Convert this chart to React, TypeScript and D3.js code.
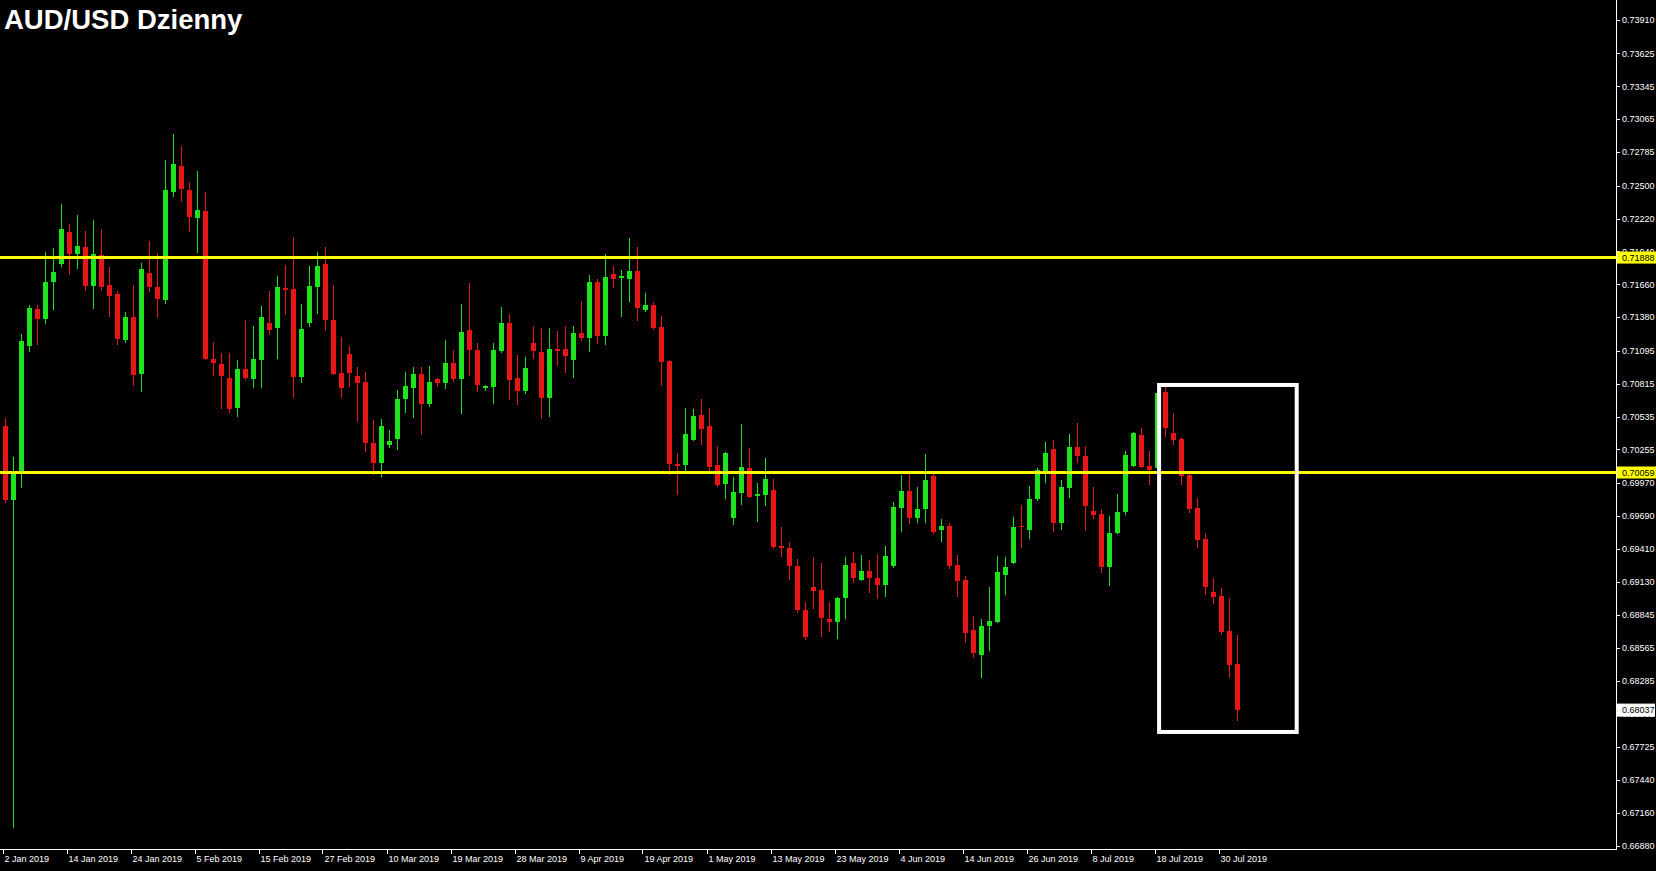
import * as d3 from "d3";

// AUD/USD daily bars, 2 Jan 2019 .. 1 Aug 2019
const open = [
  0.70455, 0.69825, 0.70046, 0.71136, 0.7145, 0.71365, 0.7168, 0.71833, 0.72106, 0.71919,
  0.71978, 0.71646, 0.7191, 0.71655, 0.71578, 0.71187, 0.71382, 0.70897, 0.71757, 0.71638,
  0.71527, 0.72446, 0.72667, 0.72463, 0.72225, 0.72284, 0.71025, 0.70982, 0.70863, 0.70608,
  0.7094, 0.70855, 0.71016, 0.71331, 0.71289, 0.71629, 0.71621, 0.70872, 0.71331, 0.71638,
  0.71833, 0.71357, 0.70906, 0.71067, 0.7088, 0.70829, 0.7031, 0.7014, 0.70293, 0.70344,
  0.70685, 0.70778, 0.70897, 0.70642, 0.70855, 0.70821, 0.70991, 0.70855, 0.71272, 0.71101,
  0.70778, 0.70787, 0.71093, 0.71331, 0.70863, 0.70753, 0.71161, 0.71084, 0.70693, 0.7111,
  0.7111, 0.71016, 0.71246, 0.71204, 0.7168, 0.71221, 0.71748, 0.71714, 0.71706, 0.71774,
  0.71442, 0.71484, 0.71297, 0.71008, 0.70131, 0.70123, 0.70336, 0.70548, 0.70455, 0.70123,
  0.69961, 0.69672, 0.69885, 0.70097, 0.69859, 0.69868, 0.6991, 0.69434, 0.69417, 0.69263,
  0.68889, 0.69085, 0.69059, 0.68812, 0.68787, 0.68991, 0.69289, 0.69144, 0.69221, 0.69161,
  0.69102, 0.69263, 0.69757, 0.69902, 0.69672, 0.69748, 0.70029, 0.6957, 0.69604, 0.69272,
  0.69144, 0.68719, 0.68506, 0.68753, 0.68787, 0.69187, 0.69289, 0.69604, 0.6957, 0.69834,
  0.70072, 0.70259, 0.69629, 0.69927, 0.70276, 0.70199, 0.69731, 0.69706, 0.69255, 0.69544,
  0.69723, 0.70114, 0.70378, 0.70114, 0.70097, 0.70744, 0.70395, 0.70344, 0.70038, 0.69757,
  0.69493, 0.69042, 0.69008, 0.6871, 0.68429,
];
const high = [
  0.70523, 0.70191, 0.71238, 0.71484, 0.71484, 0.71936, 0.7197, 0.72344, 0.72174, 0.7225,
  0.72114, 0.72208, 0.72131, 0.71808, 0.71604, 0.71425, 0.71655, 0.71842, 0.72029, 0.71927,
  0.72718, 0.7294, 0.72838, 0.72531, 0.72625, 0.72446, 0.7117, 0.71076, 0.71076, 0.71016,
  0.71357, 0.71306, 0.71476, 0.71604, 0.71731, 0.71825, 0.72063, 0.71493, 0.71816, 0.71936,
  0.71978, 0.71655, 0.71212, 0.71136, 0.70957, 0.70914, 0.70506, 0.70514, 0.70421, 0.70761,
  0.70914, 0.70957, 0.70957, 0.70965, 0.70863, 0.71187, 0.71101, 0.71493, 0.71672, 0.71161,
  0.70804, 0.71161, 0.71467, 0.71408, 0.71059, 0.71042, 0.71306, 0.71289, 0.71289, 0.71263,
  0.71306, 0.71306, 0.71519, 0.7174, 0.71706, 0.71919, 0.71816, 0.71782, 0.72055, 0.71978,
  0.71587, 0.7151, 0.71391, 0.7102, 0.70225, 0.70608, 0.70599, 0.70685, 0.70608, 0.70285,
  0.70234, 0.70021, 0.70472, 0.70268, 0.6997, 0.70182, 0.70004, 0.69595, 0.69468, 0.69323,
  0.68957, 0.6934, 0.69289, 0.68957, 0.68999, 0.6934, 0.69382, 0.69357, 0.69314, 0.69365,
  0.69434, 0.69808, 0.70038, 0.70063, 0.69936, 0.70217, 0.70055, 0.69663, 0.69629, 0.69357,
  0.69178, 0.68838, 0.68812, 0.69085, 0.69348, 0.6934, 0.6968, 0.69782, 0.69944, 0.70097,
  0.70319, 0.70336, 0.69995, 0.70387, 0.7048, 0.70285, 0.69936, 0.69748, 0.69689, 0.69876,
  0.70242, 0.70404, 0.70438, 0.70242, 0.70761, 0.70787, 0.70565, 0.70361, 0.70063, 0.69842,
  0.69544, 0.69161, 0.69076, 0.68991, 0.68676,
];
const low = [
  0.69799, 0.67034, 0.69927, 0.71084, 0.71144, 0.71323, 0.71442, 0.71808, 0.7174, 0.71791,
  0.71604, 0.7145, 0.71604, 0.71382, 0.71144, 0.71161, 0.70795, 0.70744, 0.71595, 0.71374,
  0.71493, 0.72404, 0.72361, 0.72106, 0.71927, 0.71016, 0.7088, 0.70599, 0.70565, 0.70531,
  0.70846, 0.70778, 0.70778, 0.71229, 0.71025, 0.71399, 0.70693, 0.70821, 0.71297, 0.71408,
  0.71263, 0.70889, 0.70693, 0.70787, 0.70489, 0.70234, 0.70038, 0.70021, 0.70268, 0.70251,
  0.70565, 0.70523, 0.70378, 0.70616, 0.70787, 0.7077, 0.70829, 0.70557, 0.7088, 0.70744,
  0.70753, 0.70642, 0.71076, 0.70676, 0.70633, 0.70727, 0.71025, 0.70514, 0.70531, 0.70965,
  0.70906, 0.70863, 0.71178, 0.71084, 0.71153, 0.71144, 0.71629, 0.71382, 0.7151, 0.71348,
  0.71425, 0.71272, 0.70795, 0.70038, 0.69868, 0.70063, 0.70327, 0.70293, 0.70072, 0.69936,
  0.69834, 0.69612, 0.69782, 0.6984, 0.69638, 0.69774, 0.69408, 0.6934, 0.69144, 0.68863,
  0.68634, 0.68897, 0.68659, 0.68702, 0.68642, 0.68812, 0.69119, 0.69136, 0.69034, 0.68983,
  0.68999, 0.69246, 0.69553, 0.69621, 0.69629, 0.69629, 0.69536, 0.69468, 0.69238, 0.68999,
  0.68608, 0.6848, 0.6831, 0.6854, 0.68778, 0.69017, 0.6928, 0.69417, 0.69493, 0.69817,
  0.6997, 0.69553, 0.6957, 0.69842, 0.7014, 0.69561, 0.69663, 0.69204, 0.69093, 0.69536,
  0.69697, 0.70106, 0.70097, 0.69953, 0.70063, 0.70361, 0.70293, 0.69953, 0.69714, 0.69417,
  0.69017, 0.6894, 0.68676, 0.6831, 0.67944,
];
const close = [
  0.69825, 0.70046, 0.71178, 0.71459, 0.71365, 0.7168, 0.71765, 0.72131, 0.71919, 0.71987,
  0.71646, 0.71919, 0.71638, 0.71561, 0.71195, 0.71382, 0.70889, 0.71791, 0.71638, 0.71536,
  0.72463, 0.72684, 0.72472, 0.72233, 0.72293, 0.71025, 0.70991, 0.7088, 0.70599, 0.7094,
  0.70863, 0.71025, 0.71382, 0.71272, 0.71638, 0.71612, 0.70872, 0.7128, 0.71646, 0.71816,
  0.71357, 0.70897, 0.70778, 0.70906, 0.70821, 0.7031, 0.7014, 0.70455, 0.70327, 0.70685,
  0.70795, 0.70897, 0.70642, 0.70829, 0.70821, 0.70991, 0.70855, 0.71255, 0.71101, 0.70804,
  0.70795, 0.71101, 0.71331, 0.70846, 0.70753, 0.70948, 0.71093, 0.70693, 0.7111, 0.71093,
  0.7105, 0.71246, 0.71204, 0.7168, 0.71221, 0.71723, 0.71706, 0.71731, 0.71774, 0.71459,
  0.71484, 0.71289, 0.70999, 0.70131, 0.70114, 0.70387, 0.7054, 0.70429, 0.70106, 0.69953,
  0.70225, 0.69893, 0.70106, 0.69851, 0.69876, 0.70004, 0.69425, 0.69417, 0.69263, 0.68889,
  0.68659, 0.69051, 0.68821, 0.68787, 0.68991, 0.69272, 0.69161, 0.69221, 0.69161, 0.69102,
  0.69348, 0.69765, 0.69902, 0.69672, 0.69748, 0.69995, 0.69553, 0.69604, 0.69263, 0.69136,
  0.68693, 0.68523, 0.68753, 0.68795, 0.69212, 0.69255, 0.69595, 0.69595, 0.69834, 0.7008,
  0.70225, 0.69629, 0.69936, 0.70276, 0.70199, 0.69774, 0.69697, 0.69255, 0.69544, 0.69723,
  0.70208, 0.70395, 0.70106, 0.7008, 0.70736, 0.70438, 0.70336, 0.70029, 0.69748, 0.69485,
  0.69085, 0.68999, 0.68702, 0.68421, 0.68037,
];

const dateLabels = [
  "2 Jan 2019", "14 Jan 2019", "24 Jan 2019", "5 Feb 2019", "15 Feb 2019",
  "27 Feb 2019", "10 Mar 2019", "19 Mar 2019", "28 Mar 2019", "9 Apr 2019",
  "19 Apr 2019", "1 May 2019", "13 May 2019", "23 May 2019", "4 Jun 2019",
  "14 Jun 2019", "26 Jun 2019", "8 Jul 2019", "18 Jul 2019", "30 Jul 2019",
];
const dateBars = [0, 8, 16, 24, 32, 40, 48, 56, 64, 72, 80, 88, 96, 104, 112, 120, 128, 136, 144, 152];

const priceTicks = [
  0.7391, 0.73625, 0.73345, 0.73065, 0.72785, 0.725, 0.7222, 0.7194, 0.7166, 0.7138,
  0.71095, 0.70815, 0.70535, 0.70255, 0.6997, 0.6969, 0.6941, 0.6913, 0.68845, 0.68565,
  0.68285, 0.68005, 0.67725, 0.6744, 0.6716, 0.6688,
];

const levels = [0.71888, 0.70059];
const lastPrice = 0.68037;
// highlight box: bar span and price span
const boxBars = [144.2, 161.4];
const boxPrices = [0.70804, 0.67851];

const W = 1656;
const H = 871;
const plotRight = 1616;
const plotBottom = 849;
const UP = "#1fe31f";
const DOWN = "#e81616";
const axisFont = "'Liberation Sans', Arial, sans-serif";

export default function App() {
  const x = d3.scaleLinear().domain([0, 154]).range([5.5, 1237.5]);
  const y = d3.scaleLinear().domain([0.66855, 0.7408]).range([plotBottom, 0]);
  const fmt = d3.format(".5f");

  return (
    <svg
      width={W}
      height={H}
      style={{ position: "fixed", left: 0, top: 0, display: "block" }}
    >
      <rect x={0} y={0} width={W} height={H} fill="#000" />

      {/* candles */}
      <g shapeRendering="crispEdges">
        {open.map((o, i) => {
          const c = close[i];
          const up = c >= o;
          const col = up ? UP : DOWN;
          const cx = Math.round(x(i) - 0.5) + 0.5;
          const top = y(Math.max(o, c));
          const bot = y(Math.min(o, c));
          return (
            <g key={i}>
              <line x1={cx} x2={cx} y1={y(high[i])} y2={y(low[i])} stroke={col} strokeWidth={1} />
              <rect x={cx - 2.5} y={top} width={5} height={Math.max(1, bot - top)} fill={col} />
            </g>
          );
        })}
      </g>

      {/* support / resistance levels */}
      {levels.map((v) => (
        <line key={v} x1={0} x2={plotRight} y1={y(v)} y2={y(v)} stroke="#ffff00" strokeWidth={3} />
      ))}

      {/* highlight box */}
      <rect
        x={x(boxBars[0])}
        y={y(boxPrices[0])}
        width={x(boxBars[1]) - x(boxBars[0])}
        height={y(boxPrices[1]) - y(boxPrices[0])}
        fill="none"
        stroke="#fff"
        strokeWidth={4}
      />

      {/* axes */}
      <g shapeRendering="crispEdges" stroke="#fff">
        <line x1={plotRight + 0.5} x2={plotRight + 0.5} y1={0} y2={plotBottom} />
        <line x1={0} x2={plotRight + 0.5} y1={plotBottom + 0.5} y2={plotBottom + 0.5} />
        {priceTicks.map((t) => (
          <line key={t} x1={plotRight} x2={plotRight + 4} y1={Math.round(y(t)) + 0.5} y2={Math.round(y(t)) + 0.5} />
        ))}
        {dateBars.map((b) => (
          <line key={b} x1={Math.round(x(b) - 3) + 0.5} x2={Math.round(x(b) - 3) + 0.5} y1={plotBottom} y2={plotBottom + 5} />
        ))}
      </g>

      <g fontFamily={axisFont} fontSize={9} fill="#fff">
        {priceTicks.map((t) => (
          <text key={t} x={plotRight + 6} y={y(t)} dy="0.35em">
            {fmt(t)}
          </text>
        ))}
        {dateLabels.map((d, k) => (
          <text key={d} x={x(dateBars[k]) - 1} y={plotBottom + 13}>
            {d}
          </text>
        ))}
      </g>

      {/* price labels on the scale */}
      <g fontFamily={axisFont} fontSize={9}>
        {levels.map((v) => (
          <g key={v}>
            <rect x={plotRight + 1} y={y(v) - 6} width={W - plotRight - 1} height={12} fill="#ffff00" />
            <text x={plotRight + 6} y={y(v)} dy="0.35em" fill="#000">
              {fmt(v)}
            </text>
          </g>
        ))}
        <rect
          x={plotRight + 1.5}
          y={y(lastPrice) - 6}
          width={W - plotRight - 3}
          height={12}
          fill="#fff"
          stroke="#fff"
        />
        <text x={plotRight + 6} y={y(lastPrice)} dy="0.35em" fill="#000">
          {fmt(lastPrice)}
        </text>
      </g>

      <text
        x={4}
        y={29}
        fill="#fff"
        fontFamily={axisFont}
        fontWeight="bold"
        fontSize={27.5}
      >
        AUD/USD Dzienny
      </text>
    </svg>
  );
}
